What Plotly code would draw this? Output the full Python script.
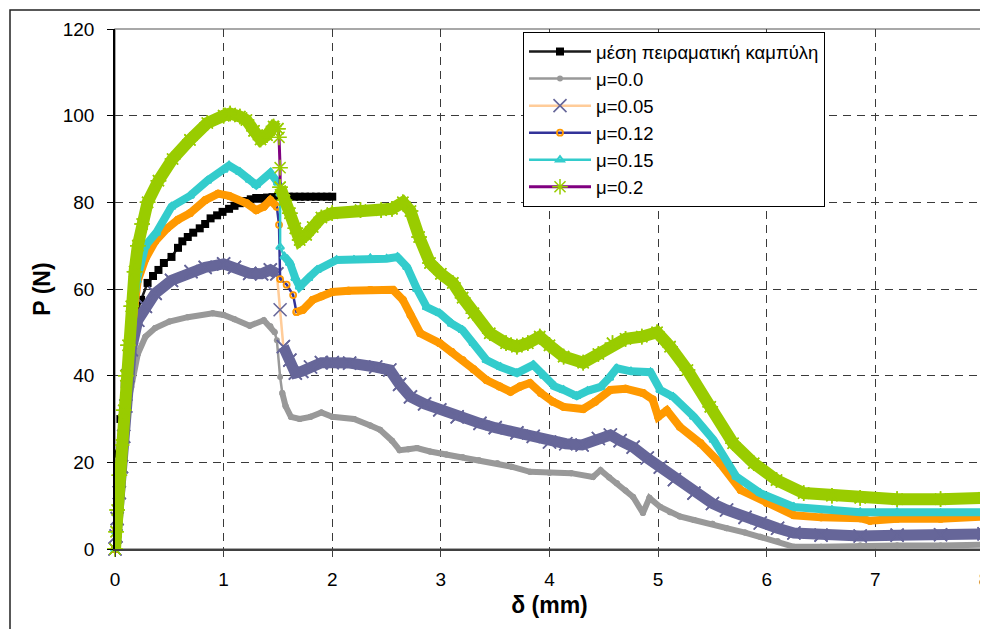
import plotly.graph_objects as go

# ---------------- data ----------------
EXP_X = [0, 0.02, 0.05, 0.09, 0.12, 0.18, 0.24, 0.3, 0.35, 0.4, 0.45, 0.52, 0.58, 0.62, 0.67,
         0.72, 0.78, 0.83, 0.88, 0.94, 0.99, 1.05, 1.1, 1.15, 1.2, 1.25, 1.3, 1.35, 1.4, 1.45,
         1.5, 1.55, 1.6, 1.65, 1.7, 1.75, 1.8, 1.85, 1.9, 1.95, 2.0]
EXP_Y = [0, 22, 30, 38, 45, 52.8, 57.5, 61.4, 63, 64.4, 66, 67.4, 69.5, 71, 72,
         73, 74, 75, 76.3, 77, 77.8, 78.5, 79.2, 79.8, 80.3, 80.7, 81, 81, 81.1, 81.2,
         81.3, 81.3, 81.3, 81.3, 81.3, 81.3, 81.3, 81.3, 81.3, 81.3, 81.3]

# mu = 0.0
M00_X_PRE = [0, 0.01, 0.02, 0.04, 0.06, 0.08, 0.1, 0.12, 0.15, 0.21, 0.28, 0.37, 0.5, 0.67,
             0.9, 1.0, 1.1, 1.24, 1.37, 1.43, 1.47]
M00_Y_PRE = [0, 3, 6, 12, 18, 24, 30, 34, 37.4, 45, 49, 51, 52.5, 53.5,
             54.4, 54, 53, 51.5, 52.8, 51.4, 50]
M00_X_DROP = [1.49, 1.52]
M00_Y_DROP = [48.2, 39.7]
M00_X_POST = [1.54, 1.57, 1.62, 1.7, 1.8, 1.9, 2.0, 2.2, 2.35, 2.44, 2.55, 2.62, 2.7, 2.78,
              2.9, 3.05, 3.2, 3.35, 3.52, 3.65, 3.82, 4.0, 4.2, 4.4, 4.47, 4.55, 4.62, 4.7,
              4.77, 4.86, 4.92, 5.02, 5.11, 5.2, 5.33, 5.5, 5.63, 5.8, 5.94, 6.1, 6.25, 6.5,
              6.86, 7.2, 7.6, 8.0]
M00_Y_POST = [36, 33, 30.5, 30, 30.5, 31.5, 30.5, 30, 28.5, 27.5, 25, 22.8, 23, 23.3,
              22.5, 21.8, 21.2, 20.5, 19.8, 19, 17.8, 17.6, 17.5, 16.6, 18.2, 16.5, 15.2, 13.5,
              12, 8.3, 11.8, 9.7, 8.5, 7.5, 6.7, 5.8, 4.8, 3.8, 2.8, 1.8, 0.5, 0.5,
              0.8, 0.8, 0.8, 1.0]

# mu = 0.05
M05_X_PRE = [0, 0.01, 0.02, 0.04, 0.06, 0.08, 0.1, 0.12, 0.15, 0.21, 0.28, 0.37, 0.52, 0.7,
             0.83, 1.0, 1.1, 1.24, 1.35, 1.43, 1.49]
M05_Y_PRE = [0, 3, 7, 13, 19, 26, 33, 40, 46, 52.8, 56, 59, 62, 64,
             65, 65.8, 65, 63.6, 63.5, 64.4, 63.5]
M05_X_DROP = [1.52]
M05_Y_DROP = [55.2]
M05_X_POST = [1.55, 1.61, 1.66, 1.72, 1.8, 1.9, 2.0, 2.16, 2.4, 2.53, 2.62, 2.72, 2.85, 2.99,
              3.15, 3.36, 3.5, 3.7, 3.85, 4.0, 4.15, 4.3, 4.45, 4.56, 4.65, 4.77, 4.9, 5.02,
              5.15, 5.33, 5.5, 5.63, 5.8, 5.94, 6.1, 6.25, 6.5, 6.86, 7.2, 7.6, 8.0]
M05_Y_POST = [46.7, 43.6, 40.6, 41, 42, 43, 43, 42.9, 42, 41.3, 38, 35.1, 33.5, 32.1,
              30.5, 29, 28, 26.8, 26, 24.7, 24.3, 24, 25.5, 26.3, 25, 23.5, 21, 18.9,
              16, 12.9, 10.5, 9.0, 7.3, 6.0, 4.8, 3.7, 3.2, 3.0, 3.2, 3.3, 3.5]

# mu = 0.12
M12_X_PRE = [0, 0.01, 0.02, 0.04, 0.06, 0.08, 0.1, 0.12, 0.14, 0.17, 0.21, 0.28, 0.37, 0.48,
             0.58, 0.69, 0.83, 0.95, 1.05, 1.21, 1.3, 1.37, 1.43, 1.49]
M12_Y_PRE = [0, 4, 8, 14, 21, 28, 35, 42, 48, 56, 62, 67, 71, 74,
             76, 77.5, 80.5, 82, 81.5, 79.8, 78.2, 79, 80.5, 79]
M12_X_DROP = [1.51, 1.52, 1.58, 1.64]
M12_Y_DROP = [74.8, 62.3, 61, 58.6]
M12_X_POST = [1.67, 1.73, 1.82, 1.9, 2.0, 2.15, 2.35, 2.56, 2.65, 2.72, 2.81, 2.99, 3.1, 3.2,
              3.3, 3.42, 3.54, 3.64, 3.73, 3.82, 3.92, 4.03, 4.13, 4.31, 4.42, 4.56, 4.7, 4.86,
              4.95, 5.0, 5.08, 5.2, 5.39, 5.57, 5.76, 6.0, 6.25, 6.5, 6.86, 6.95, 7.2, 7.6, 8.0]
M12_Y_POST = [54.7, 55.2, 57.5, 58.3, 59.3, 59.6, 59.8, 59.8, 57.5, 54, 49.8, 47.5, 45.5, 43.6,
              41.5, 39, 37.5, 36.3, 37.5, 38.3, 36, 34, 32.8, 32.3, 34, 36.7, 37, 36,
              34.5, 30.5, 32, 28.2, 24.4, 19.8, 13.6, 10.6, 7.8, 7.3, 7.1, 6.5, 7, 7, 7.5]

# mu = 0.15
M15_X_PRE = [0, 0.01, 0.02, 0.04, 0.06, 0.08, 0.1, 0.12, 0.15, 0.2, 0.28, 0.38, 0.52, 0.69,
             0.85, 1.0, 1.05, 1.15, 1.24, 1.3, 1.43, 1.5]
M15_Y_PRE = [0, 4, 8, 15, 22, 29, 36, 43, 52, 62, 70, 73, 79, 81.5,
             85, 87.5, 88.5, 87, 85.2, 84, 86.8, 84.5]
M15_X_DROP = [1.52, 1.52]
M15_Y_DROP = [82, 69.7]
M15_X_POST = [1.56, 1.61, 1.66, 1.7, 1.78, 1.86, 2.04, 2.2, 2.35, 2.5, 2.6, 2.69, 2.78, 2.87,
              2.99, 3.1, 3.2, 3.3, 3.42, 3.55, 3.7, 3.85, 3.95, 4.05, 4.13, 4.25, 4.35, 4.47,
              4.55, 4.62, 4.75, 4.93, 5.02, 5.14, 5.33, 5.51, 5.72, 5.94, 6.25, 6.6, 6.86,
              7.2, 7.6, 8.0]
M15_Y_POST = [67.5, 66, 62.5, 60.5, 62.5, 64.4, 66.7, 66.7, 67.1, 67, 67.4, 65, 60, 55.8,
              54.4, 52, 50.5, 47.5, 43.6, 42, 40.6, 42.5, 40, 37.5, 36.7, 35.3, 36.5, 37.4,
              39.5, 41.7, 41, 40.8, 36.7, 35.1, 30.5, 25.2, 16.7, 12.9, 9.7, 9, 8.5,
              8.5, 8.3, 8.5]

# mu = 0.2
M20_X_PRE = [0, 0.01, 0.02, 0.04, 0.06, 0.08, 0.1, 0.12, 0.15, 0.18, 0.21, 0.25, 0.3, 0.4,
             0.53, 0.69, 0.85, 1.0, 1.06, 1.15, 1.21, 1.28, 1.34, 1.4, 1.46, 1.5]
M20_Y_PRE = [0, 4, 9, 17, 24, 32, 40, 47, 56, 64, 70, 75, 80, 85,
             90, 94.4, 98.3, 100, 100.5, 99.8, 99, 96.5, 94.5, 95.5, 97.5, 97]
M20_X_DROP = [1.51, 1.52]
M20_Y_DROP = [95, 88]
M20_X_POST = [1.52, 1.56, 1.61, 1.66, 1.7, 1.76, 1.82, 1.9, 2.0, 2.26, 2.45, 2.55, 2.65, 2.72,
              2.8, 2.9, 3.0, 3.11, 3.2, 3.3, 3.45, 3.6, 3.7, 3.8, 3.91, 4.0, 4.13, 4.31, 4.45,
              4.58, 4.7, 4.85, 4.99, 5.11, 5.27, 5.48, 5.69, 5.88, 6.09, 6.34, 6.6, 6.86,
              7.2, 7.6, 8.0]
M20_Y_POST = [83.5, 80.5, 77.5, 74, 71.3, 72.5, 74.3, 76.5, 77.5, 78.2, 78.2, 78.5, 80, 78,
              72, 66, 63.5, 61.4, 58, 54.4, 49.8, 47.5, 46.7, 47.5, 49, 47, 44.4, 43, 45,
              47.5, 48.5, 49, 50, 46.7, 41.3, 32.8, 24.4, 19.8, 15.9, 12.9, 12.3, 11.8,
              11.5, 11.5, 11.8]

SERIES_NAMES = ["μέση πειραματική καμπύλη", "μ=0.0", "μ=0.05", "μ=0.12", "μ=0.15", "μ=0.2"]
X_TICKS = [0, 1, 2, 3, 4, 5, 6, 7, 8]
Y_TICKS = [0, 20, 40, 60, 80, 100, 120]

# ---------------- figure ----------------
FONT = "Arial, 'Liberation Sans', sans-serif"
fig = go.Figure()

# experimental curve
fig.add_trace(go.Scatter(
    x=EXP_X, y=EXP_Y, name=SERIES_NAMES[0], mode="lines+markers",
    legendgroup="g0", line=dict(color="#1a1a1a", width=2.5),
    marker=dict(symbol="square", size=8, color="#000000"), cliponaxis=False))

specs = [
    # name idx, data, line color, marker color, symbol, marker size, marker line width, band width
    (1, (M00_X_PRE, M00_Y_PRE, M00_X_DROP, M00_Y_DROP, M00_X_POST, M00_Y_POST),
     "#999999", "#999999", "circle", 6, 0, 6),
    (2, (M05_X_PRE, M05_Y_PRE, M05_X_DROP, M05_Y_DROP, M05_X_POST, M05_Y_POST),
     "#FFCC99", "#666699", "x-thin", 13, 1.6, 11),
    (3, (M12_X_PRE, M12_Y_PRE, M12_X_DROP, M12_Y_DROP, M12_X_POST, M12_Y_POST),
     "#333399", "#FF9900", "circle-open", 6, 1.8, 8),
    (4, (M15_X_PRE, M15_Y_PRE, M15_X_DROP, M15_Y_DROP, M15_X_POST, M15_Y_POST),
     "#33CCCC", "#33CCCC", "triangle-up-open", 7, 2, 8),
    (5, (M20_X_PRE, M20_Y_PRE, M20_X_DROP, M20_Y_DROP, M20_X_POST, M20_Y_POST),
     "#800080", "#99CC00", "asterisk-open", 13, 1.5, 12),
]

for idx, (xp, yp, xd, yd, xq, yq), lc, mc, sym, ms, mlw, bw in specs:
    grp = "g%d" % idx
    mk = dict(symbol=sym, size=ms, color=mc, line=dict(color=mc, width=mlw))
    # full curve in the series line colour (visible at the drop) - legend entry
    fig.add_trace(go.Scatter(
        x=xp + xd + xq, y=yp + yd + yq, name=SERIES_NAMES[idx], legendgroup=grp,
        mode="lines+markers", line=dict(color=lc, width=3 if idx == 5 else 2.5),
        marker=mk, cliponaxis=False))
    # dense-marker bands
    for bx, by in ((xp, yp), (xq, yq)):
        fig.add_trace(go.Scatter(
            x=bx, y=by, mode="lines+markers", legendgroup=grp, showlegend=False,
            line=dict(color=mc, width=bw), marker=mk, cliponaxis=False, hoverinfo="skip"))

# the page body has an 8px margin: figure is drawn at (8, 8) in the window
OFF = 8
W, H = 988 - OFF, 629 - OFF
L, T = 115 - OFF, 29 - OFF
R = W - (984 - OFF)
B = H - (549 - OFF)
pw, ph = W - L - R, H - T - B

# outer chart frame
fig.add_shape(type="rect", xref="paper", yref="paper",
              x0=(10 - OFF - L) / pw, x1=(W + 20 - L) / pw,
              y0=-(B + 40) / ph, y1=(H - B - (10 - OFF)) / ph,
              line=dict(color="#222222", width=1.5), fillcolor="rgba(0,0,0,0)", layer="below")
# plot area border (top/right gray)
fig.add_shape(type="rect", xref="paper", yref="paper", x0=0, x1=1, y0=0, y1=1,
              line=dict(color="#8c8c8c", width=1.5), layer="below")

fig.update_layout(
    width=W, height=H,
    margin=dict(l=L, r=R, t=T, b=B, autoexpand=False),
    paper_bgcolor="white", plot_bgcolor="white",
    font=dict(family=FONT, color="black", size=19),
    showlegend=True,
    legend=dict(x=(523 - OFF - L) / pw, y=(H - B - (32 - OFF)) / ph, xanchor="left", yanchor="top",
                bgcolor="white", bordercolor="black", borderwidth=1,
                font=dict(family=FONT, size=18.5, color="black"),
                traceorder="grouped", tracegroupgap=0, itemwidth=62),
    xaxis=dict(range=[0, 8], tickvals=X_TICKS, ticktext=[str(v) for v in X_TICKS],
               showgrid=True, gridcolor="#3a3a3a", gridwidth=1, griddash="8px,6px",
               zeroline=False, showline=True, linecolor="#404040", linewidth=2,
               ticks="outside", ticklen=6, tickcolor="#404040", ticklabelstandoff=6,
               ticklabeloverflow="allow",
               title=dict(text="<b>δ (mm)</b>", font=dict(size=23), standoff=8)),
    yaxis=dict(range=[0, 120], tickvals=Y_TICKS, ticktext=[str(v) for v in Y_TICKS],
               showgrid=True, gridcolor="#3a3a3a", gridwidth=1, griddash="8px,6px",
               zeroline=False, showline=True, linecolor="black", linewidth=1.5,
               ticks="outside", ticklen=6, tickcolor="black", ticklabelstandoff=9,
               title=dict(text="<b>P (N)</b>", font=dict(size=23), standoff=6)),
)

fig.write_html("out.html")
